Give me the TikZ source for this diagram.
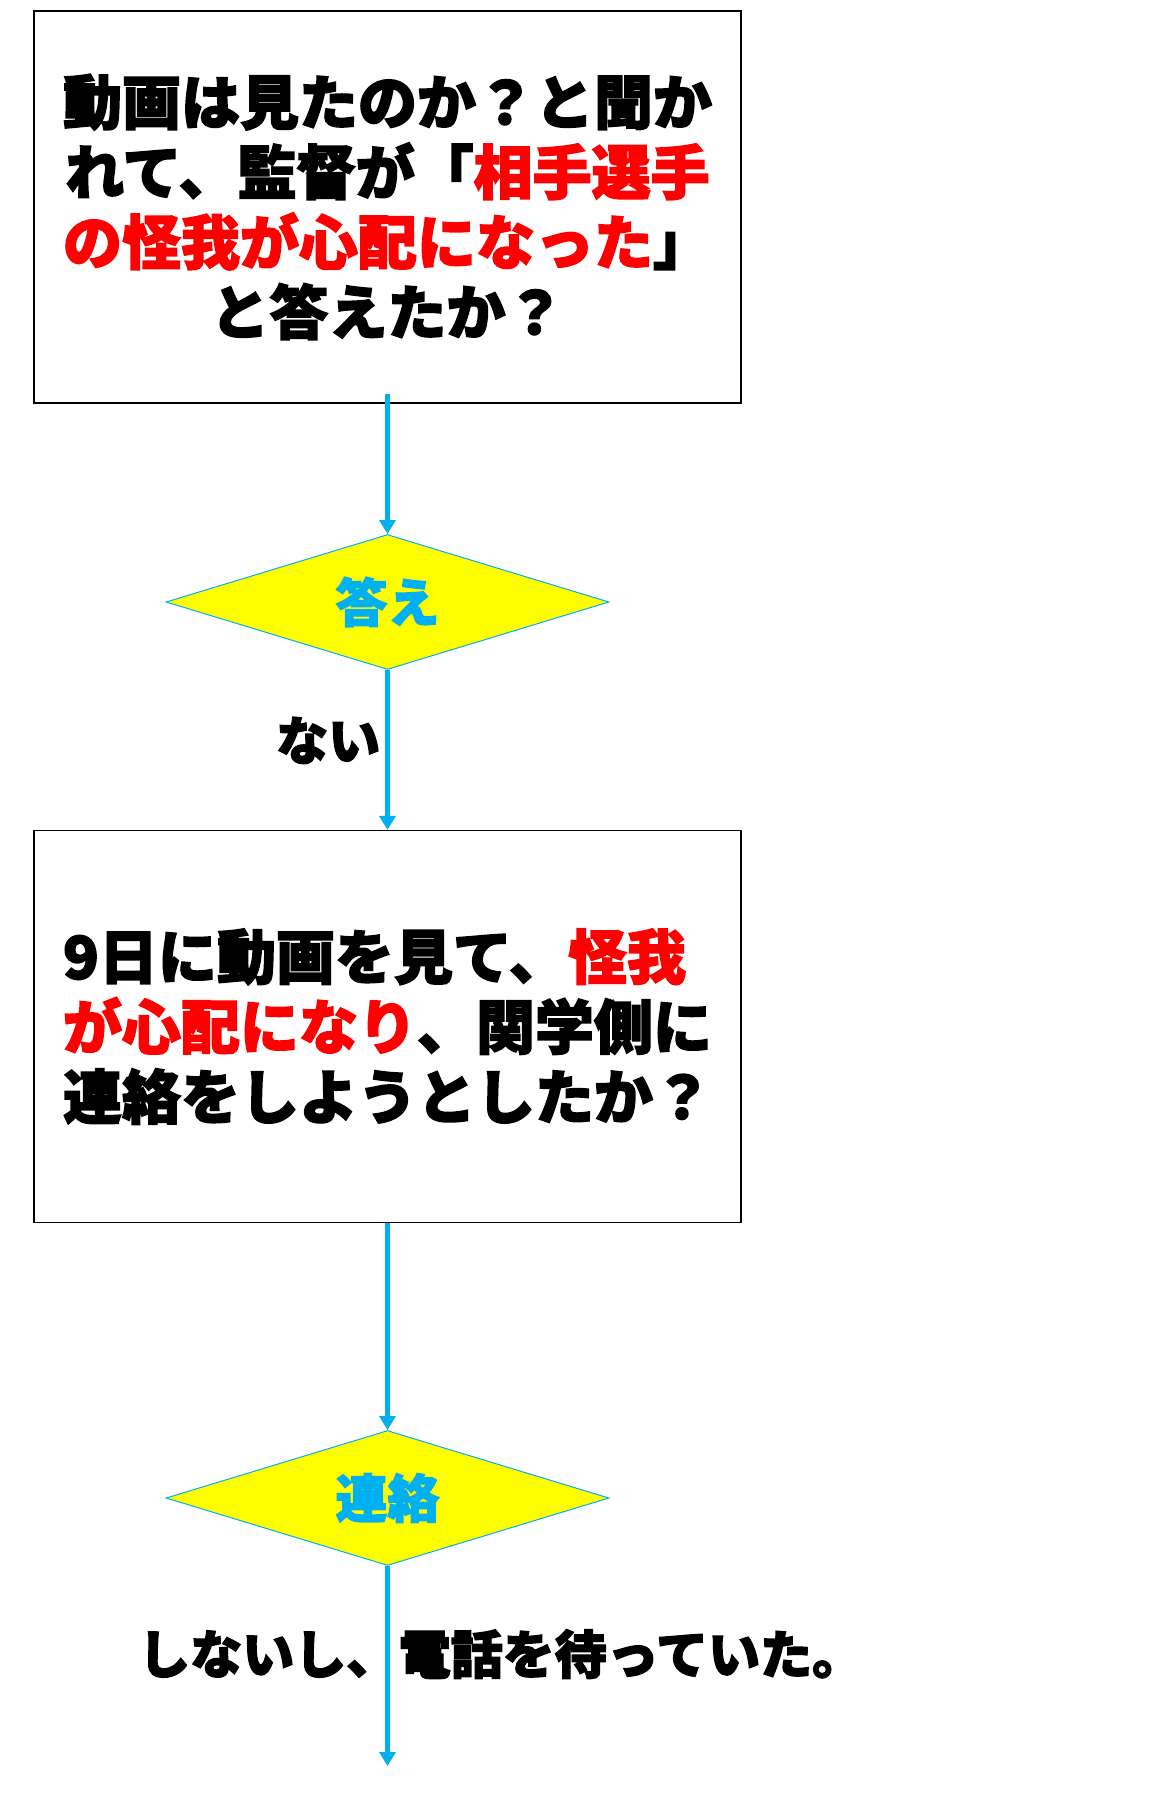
\documentclass[tikz,border=0pt]{standalone}
\usepackage{fontspec}
\newfontfamily\jp{Noto Sans CJK JP}[BoldFeatures={FakeBold=2.5}]
\usepackage{xcolor}
\usetikzlibrary{arrows.meta,positioning,shapes.geometric}

\definecolor{flowblue}{HTML}{00B0F0}
\definecolor{hotred}{HTML}{FF0000}
\definecolor{dyellow}{HTML}{FFFF00}
\newcommand{\hl}[1]{\textcolor{hotred}{#1}}

\begin{document}
\begin{tikzpicture}[x=1pt, y=-1pt,
  qbox/.style={draw, line width=1.2pt, minimum width=707pt,
    minimum height=392pt, inner sep=0pt,
    font=\jp\bfseries\fontsize{59}{70}\selectfont},
  dbox/.style={diamond, draw=flowblue, line width=1pt, fill=dyellow,
    shape aspect=3.3, minimum width=443pt, minimum height=135pt,
    inner sep=0pt, text=flowblue,
    font=\jp\bfseries\fontsize{52}{60}\selectfont},
  flow/.style={flowblue, line width=4.5pt,
    -{Triangle[length=14pt,width=16pt]}},
  lbl/.style={text=black, font=\jp\bfseries\fontsize{52}{58}\selectfont,
    inner sep=5pt}]
  \useasboundingbox (0,0) rectangle (1156,1794);

  % question boxes
  \node[qbox, align=center] (ask) at (387.5,207)
    {動画は見たのか？と聞か\\れて、監督が「\hl{相手選手}\\
     \hl{の怪我が心配になった}」\\と答えたか？};
  \node[qbox, align=left] (call) at (387.5,1026.5)
    {9日に動画を見て、\hl{怪我}\\\hl{が心配になり}、関学側に\\
     連絡をしようとしたか？};

  % decisions
  \node[dbox] (ans) at (387.5,602) {答え};
  \node[dbox] (cont) at (387.5,1498) {連絡};
  \coordinate (end) at (387.5,1766);

  % connectors
  \draw[flow] ([yshift=10pt]ask.south) -- (ans);
  \draw[flow] (ans) -- node[pos=0.44, left, lbl] {ない} (call);
  \draw[flow] (call) -- (cont);
  \draw[flow] (cont) -- node[pos=0.44, left, lbl, xshift=18pt] {しないし、}
    node[pos=0.44, right, lbl, xshift=4pt] {電話を待っていた。} (end);
\end{tikzpicture}
\end{document}
